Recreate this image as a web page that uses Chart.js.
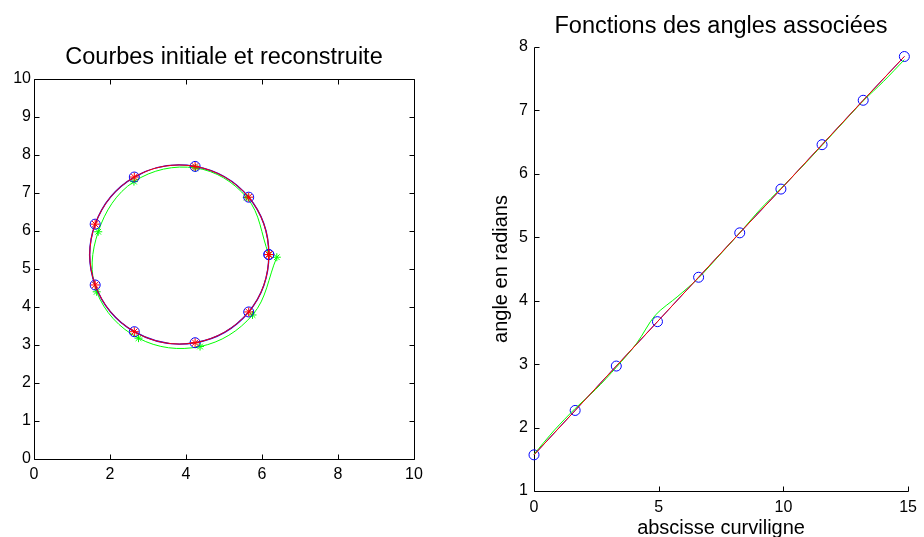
<!DOCTYPE html>
<html>
<head>
<meta charset="utf-8">
<script src="https://cdn.jsdelivr.net/npm/chart.js@4.4.1/dist/chart.umd.min.js"></script>
<style>
  html, body { margin: 0; padding: 0; background: #fff; overflow: hidden; }
  canvas { position: absolute; top: 0; }
  #left { left: 0; }
  #right { left: 462px; }
</style>
</head>
<body>
<canvas id="left" width="462" height="537"></canvas>
<canvas id="right" width="462" height="537"></canvas>
<script>
// left plot: initial curve (circle) and reconstructed curve
const circleX = [6.18, 5.65, 4.24, 2.64, 1.61, 1.61, 2.64, 4.24, 5.65, 6.18];
const circleY = [5.38, 6.89, 7.70, 7.42, 6.18, 4.58, 3.35, 3.06, 3.87, 5.38];
const reconX = [6.18, 5.60, 4.25, 2.63, 1.69, 1.65, 2.75, 4.37, 5.75, 6.39];
const reconY = [5.38, 6.88, 7.66, 7.30, 5.98, 4.40, 3.18, 2.96, 3.79, 5.31];

// right plot: angle vs curvilinear abscissa
const arcLength = [0, 1.65, 3.30, 4.95, 6.60, 8.25, 9.90, 11.55, 13.20, 14.85];
const angle = [1.57, 2.27, 2.97, 3.67, 4.37, 5.07, 5.76, 6.46, 7.16, 7.85];
const reconArc = [0, 0.82, 1.65, 2.47, 3.30, 4.12, 4.86, 5.77, 6.60, 7.42, 8.25, 9.07, 9.90, 10.72, 11.55, 12.37, 13.20, 14.02, 14.85];
const reconAngle = [1.58, 1.96, 2.30, 2.60, 2.95, 3.33, 3.77, 4.07, 4.36, 4.71, 5.07, 5.44, 5.77, 6.10, 6.45, 6.80, 7.15, 7.46, 7.80];

const leftXTicks = [0, 10, 2];
const leftYTicks = [0, 10, 1];
const rightXTicks = [0, 15, 5];
const rightYTicks = [1, 8, 1];

const FONT = '"Liberation Sans", Arial, Helvetica, sans-serif';
const BLUE = '#0000ff', RED = '#ff0000', GREEN = '#00ff00';
const NONE = 'rgba(0,0,0,0)';

const pts = (xs, ys) => xs.map((x, i) => ({ x: x, y: ys[i] }));

// closed curve: add the neighbours on both ends so the spline is smooth where it closes,
// the two extra segments are hidden
function closedCurve(xs, ys) {
  const p = pts(xs, ys);
  return [p[p.length - 2]].concat(p, [p[1]]);
}
const closedCount = circleX.length + 2;
const hideWrap = ctx => (ctx.p0DataIndex === 0 || ctx.p1DataIndex === closedCount - 1) ? NONE : undefined;
const wrapRadius = r => ctx => (ctx.dataIndex === 0 || ctx.dataIndex === closedCount - 1) ? 0 : r;

// matlab style axes: spines and inward ticks
const matlabAxes = {
  id: 'matlabAxes',
  beforeDatasetsDraw(chart, args, opts) {
    const { ctx, chartArea: a, scales } = chart;
    const len = 5;
    const px = v => Math.round(v) + 0.5;
    const L = px(a.left), R = px(a.right), T = px(a.top), B = px(a.bottom);
    ctx.save();
    ctx.strokeStyle = '#000';
    ctx.lineWidth = 1;
    ctx.beginPath();
    ctx.moveTo(L, T);
    ctx.lineTo(L, B);
    ctx.lineTo(R, B);
    if (opts.box) {
      ctx.lineTo(R, T);
      ctx.closePath();
    }
    scales.x.ticks.forEach(t => {
      const x = px(scales.x.getPixelForValue(t.value));
      ctx.moveTo(x, B); ctx.lineTo(x, B - len);
      if (opts.box) { ctx.moveTo(x, T); ctx.lineTo(x, T + len); }
    });
    scales.y.ticks.forEach(t => {
      const y = px(scales.y.getPixelForValue(t.value));
      ctx.moveTo(L, y); ctx.lineTo(L + len, y);
      if (opts.box) { ctx.moveTo(R, y); ctx.lineTo(R - len, y); }
    });
    ctx.stroke();
    ctx.restore();
  }
};

function axis(range, pad, fit, title) {
  return {
    type: 'linear',
    min: range[0], max: range[1],
    ticks: { stepSize: range[2], padding: pad, color: '#000', font: { family: FONT, size: 16 } },
    grid: { display: false, drawTicks: false },
    border: { display: false },
    title: title || { display: false },
    afterFit: fit
  };
}

function topTitle(text, height, padTop) {
  return {
    type: 'linear', position: 'top', min: 0, max: 1,
    ticks: { display: false },
    grid: { display: false, drawTicks: false },
    border: { display: false },
    title: { display: true, text: text, color: '#000', font: { family: FONT, size: 23.5 }, padding: { top: padTop, bottom: 0 } },
    afterFit: s => { s.height = height; }
  };
}

const common = {
  responsive: false,
  animation: false,
  devicePixelRatio: 1,
  events: [],
  plugins: { legend: { display: false }, tooltip: { enabled: false }, matlabAxes: {} }
};

new Chart(document.getElementById('left'), {
  type: 'scatter',
  plugins: [matlabAxes],
  data: {
    datasets: [
      { data: closedCurve(circleX, circleY), showLine: true, tension: 0.37, borderColor: RED, borderWidth: 1,
        segment: { borderColor: hideWrap },
        pointStyle: 'star', pointRadius: wrapRadius(4.5), pointBorderColor: RED, pointBorderWidth: 1, clip: false },
      { data: closedCurve(circleX, circleY), showLine: true, tension: 0.37, borderColor: BLUE, borderWidth: 1.4,
        segment: { borderColor: hideWrap },
        pointStyle: 'circle', pointRadius: wrapRadius(5), pointBorderColor: BLUE, pointBackgroundColor: NONE, pointBorderWidth: 1, clip: false },
      { data: pts(reconX, reconY), showLine: true, tension: 0.37, borderColor: GREEN, borderWidth: 1,
        pointStyle: 'star', pointRadius: 4, pointBorderColor: GREEN, pointBorderWidth: 1, clip: false }
    ]
  },
  options: Object.assign({}, common, {
    layout: { padding: { left: 0, right: 48, top: 0, bottom: 48 } },
    plugins: Object.assign({}, common.plugins, { matlabAxes: { box: true } }),
    scales: {
      x: axis(leftXTicks, 6, s => { s.height = 30; }),
      y: axis(leftYTicks, 3, s => { s.width = 34; }),
      x2: topTitle('Courbes initiale et reconstruite', 79, 43)
    }
  })
});

new Chart(document.getElementById('right'), {
  type: 'scatter',
  plugins: [matlabAxes],
  data: {
    datasets: [
      { data: pts(arcLength, angle), showLine: true, tension: 0, borderColor: RED, borderWidth: 1,
        pointRadius: 0, clip: false },
      { data: pts(reconArc, reconAngle), showLine: true, tension: 0.3, borderColor: GREEN, borderWidth: 1,
        pointRadius: 0, clip: false },
      { data: pts(arcLength, angle), showLine: true, tension: 0, borderColor: BLUE, borderWidth: 1,
        pointStyle: 'circle', pointRadius: 5, pointBorderColor: BLUE, pointBackgroundColor: NONE, pointBorderWidth: 1, clip: false }
    ]
  },
  options: Object.assign({}, common, {
    layout: { padding: { left: 0, right: 11, top: 0, bottom: 0 } },
    plugins: Object.assign({}, common.plugins, { matlabAxes: { box: false } }),
    scales: {
      x: axis(rightXTicks, 7, s => { s.height = 46; },
        { display: true, text: 'abscisse curviligne', color: '#000', font: { family: FONT, size: 20 }, padding: { top: 0, bottom: -3 } }),
      y: axis(rightYTicks, 6, s => { s.width = 72; },
        { display: true, text: 'angle en radians', color: '#000', font: { family: FONT, size: 20 }, padding: { top: 27, bottom: 0 } }),
      x2: topTitle('Fonctions des angles associées', 47, 12)
    }
  })
});
</script>
</body>
</html>
